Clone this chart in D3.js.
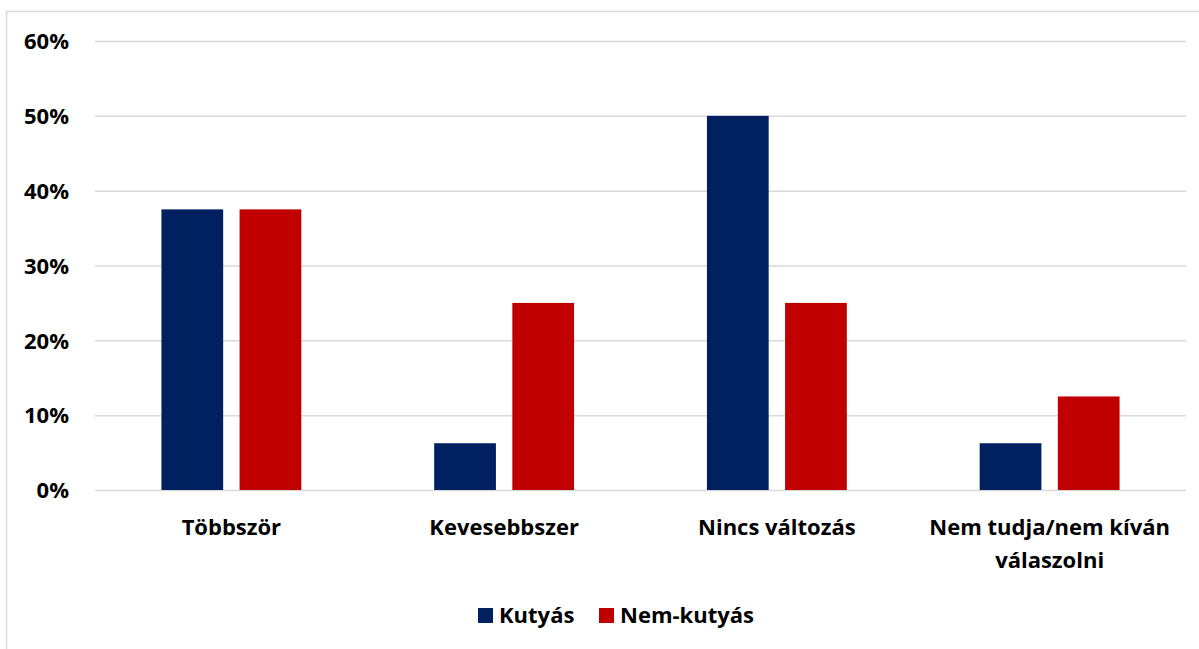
<!DOCTYPE html>
<html>
<head>
<meta charset="utf-8">
<script src="https://cdn.jsdelivr.net/npm/d3@7"></script>
<style>
  html, body { margin: 0; padding: 0; background: #fff; }
  svg text { font-family: "Open Sans", Lato, sans-serif; font-weight: 700; fill: #000; }
</style>
</head>
<body>
<div id="app"></div>
<script>
const categories = ['Többször', 'Kevesebbszer', 'Nincs változás', 'Nem tudja/nem kíván válaszolni'];
const categoryLines = [['Többször'], ['Kevesebbszer'], ['Nincs változás'], ['Nem tudja/nem kíván', 'válaszolni']];
const seriesNames = ['Kutyás', 'Nem-kutyás'];
const kutyas = [0.375, 0.0625, 0.5, 0.0625];
const nemKutyas = [0.375, 0.25, 0.25, 0.125];
const yTicks = [0, 0.1, 0.2, 0.3, 0.4, 0.5, 0.6];
const colors = ['#002060', '#c00000'];

const width = 1199, height = 649;
const margin = { left: 95, right: 13, top: 41, bottom: 159 };
const fontSize = '22px';

const svg = d3.select('#app').append('svg')
  .attr('width', width)
  .attr('height', height);

// chart frame (runs off the right/bottom of the picture)
svg.append('rect')
  .attr('x', 6.5).attr('y', 11.5)
  .attr('width', 1300).attr('height', 700)
  .attr('fill', 'none')
  .attr('stroke', '#d9d9d9')
  .attr('stroke-width', 1.5);

const x = d3.scaleBand()
  .domain(categories)
  .range([margin.left, width - margin.right]);

const inner = d3.scaleBand()
  .domain(seriesNames)
  .range([0, x.bandwidth()])
  .paddingInner(0.21)
  .paddingOuter(0.85);

const y = d3.scaleLinear()
  .domain([0, 0.6])
  .range([height - margin.bottom, margin.top]);

const yAxis = svg.append('g')
  .attr('transform', `translate(${margin.left},0)`)
  .call(d3.axisLeft(y)
    .tickValues(yTicks)
    .tickFormat(d3.format('.0%'))
    .tickSize(-(width - margin.left - margin.right))
    .tickPadding(26));

yAxis.select('.domain').remove();
yAxis.selectAll('.tick line').attr('stroke', '#d9d9d9').attr('stroke-width', 1.5);
yAxis.selectAll('.tick text').style('font-size', fontSize).attr('dy', '0.35em');

const rows = categories.map((c, i) => ({ c, values: [kutyas[i], nemKutyas[i]] }));

svg.append('g').selectAll('g')
  .data(rows)
  .join('g')
  .attr('transform', d => `translate(${x(d.c)},0)`)
  .selectAll('rect')
  .data(d => d.values.map((v, j) => ({ name: seriesNames[j], v, j })))
  .join('rect')
  .attr('x', d => inner(d.name))
  .attr('width', inner.bandwidth())
  .attr('y', d => y(d.v))
  .attr('height', d => y(0) - y(d.v))
  .attr('fill', d => colors[d.j]);

// category labels
const labels = svg.append('g').selectAll('text')
  .data(categories)
  .join('text')
  .attr('x', d => x(d) + x.bandwidth() / 2)
  .attr('y', 535)
  .attr('text-anchor', 'middle')
  .style('font-size', fontSize);

labels.selectAll('tspan')
  .data((d, i) => categoryLines[i])
  .join('tspan')
  .attr('x', function () { return this.parentNode.getAttribute('x'); })
  .attr('dy', (d, i) => i === 0 ? 0 : 33)
  .text(d => d);

// legend
const legendItems = [
  { name: seriesNames[0], color: colors[0], x: 478 },
  { name: seriesNames[1], color: colors[1], x: 599 }
];

const legend = svg.append('g').selectAll('g')
  .data(legendItems)
  .join('g')
  .attr('transform', d => `translate(${d.x},608)`);

legend.append('rect')
  .attr('width', 15).attr('height', 15)
  .attr('fill', d => d.color);

legend.append('text')
  .attr('x', 21).attr('y', 15)
  .style('font-size', fontSize)
  .text(d => d.name);
</script>
</body>
</html>
